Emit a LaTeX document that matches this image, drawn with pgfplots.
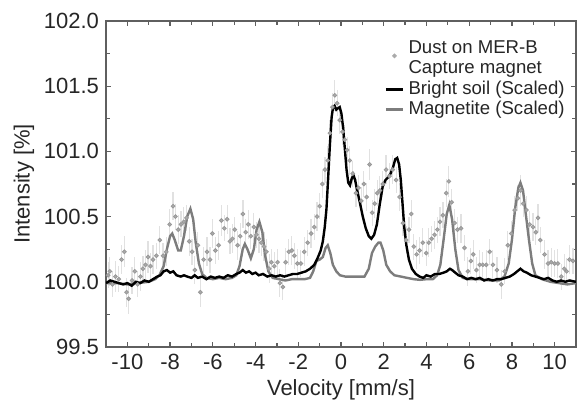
\documentclass[border=0pt]{standalone}
\usepackage{fontspec}
\setmainfont{Liberation Sans}
\usepackage{pgfplots}
\pgfplotsset{compat=1.18}
\usetikzlibrary{calc}
\definecolor{frame}{RGB}{95,95,95}
\definecolor{magn}{RGB}{125,125,125}
\definecolor{dots}{RGB}{170,170,170}
\definecolor{ebar}{RGB}{225,225,225}

\pgfplotstableread{
x y e
-10.90 100.05 0.10
-10.82 100.08 0.11
-10.70 99.98 0.10
-10.56 100.04 0.12
-10.40 100.02 0.10
-10.27 100.17 0.11
-10.14 100.23 0.12
-10.04 99.92 0.11
-9.94 99.87 0.12
-9.78 100.01 0.10
-9.65 100.08 0.11
-9.52 99.98 0.10
-9.39 100.04 0.11
-9.27 100.10 0.10
-9.15 100.13 0.11
-9.03 100.19 0.12
-8.92 100.12 0.10
-8.80 100.17 0.11
-8.64 100.20 0.10
-8.48 100.32 0.11
-8.33 100.20 0.10
-8.18 100.23 0.11
-8.02 100.44 0.12
-7.86 100.58 0.11
-7.75 100.50 0.10
-7.62 100.40 0.11
-7.49 100.44 0.10
-7.36 100.46 0.11
-7.23 100.49 0.10
-7.10 100.31 0.11
-6.97 100.23 0.10
-6.84 100.09 0.11
-6.70 100.28 0.10
-6.58 99.92 0.11
-6.43 100.17 0.10
-6.27 100.23 0.11
-6.13 100.17 0.10
-6.02 100.37 0.11
-5.88 100.24 0.10
-5.73 100.28 0.11
-5.60 100.47 0.12
-5.46 100.41 0.10
-5.33 100.48 0.11
-5.20 100.31 0.10
-5.08 100.33 0.11
-4.97 100.40 0.10
-4.84 100.28 0.11
-4.72 100.35 0.10
-4.59 100.52 0.11
-4.46 100.38 0.10
-4.34 100.44 0.11
-4.22 100.35 0.10
-4.08 100.42 0.11
-3.96 100.36 0.10
-3.84 100.33 0.11
-3.73 100.30 0.10
-3.60 100.27 0.11
-3.49 100.23 0.10
-3.36 100.10 0.11
-3.26 100.15 0.10
-3.12 100.12 0.11
-2.97 100.15 0.10
-2.86 99.99 0.11
-2.72 99.96 0.10
-2.59 100.15 0.11
-2.44 100.23 0.10
-2.30 100.24 0.11
-2.18 100.20 0.10
-2.04 100.14 0.11
-1.88 100.14 0.10
-1.72 100.23 0.11
-1.56 100.30 0.10
-1.40 100.37 0.11
-1.25 100.42 0.10
-1.12 100.50 0.11
-1.00 100.58 0.10
-0.87 100.75 0.11
-0.75 100.86 0.10
-0.62 100.93 0.11
-0.52 101.14 0.10
-0.40 101.34 0.11
-0.29 101.43 0.12
-0.18 101.37 0.10
-0.06 101.24 0.11
0.07 101.15 0.10
0.18 101.09 0.11
0.29 101.01 0.10
0.41 100.93 0.11
0.55 100.83 0.10
0.70 100.68 0.11
0.82 100.72 0.10
0.95 100.62 0.11
1.07 100.75 0.10
1.20 100.65 0.11
1.34 100.90 0.12
1.46 100.53 0.10
1.58 100.60 0.11
1.70 100.68 0.10
1.82 100.70 0.11
1.96 100.75 0.10
2.11 100.86 0.11
2.27 100.81 0.10
2.42 100.86 0.11
2.58 100.78 0.10
2.74 100.65 0.11
2.90 100.45 0.10
3.05 100.32 0.11
3.18 100.40 0.10
3.29 100.52 0.11
3.41 100.27 0.10
3.54 100.21 0.11
3.68 100.24 0.10
3.83 100.30 0.11
3.99 100.22 0.10
4.11 100.30 0.11
4.24 100.33 0.10
4.38 100.36 0.11
4.51 100.40 0.10
4.63 100.46 0.11
4.77 100.51 0.10
4.93 100.68 0.11
5.05 100.77 0.12
5.18 100.61 0.10
5.32 100.45 0.11
5.45 100.40 0.10
5.62 100.41 0.11
5.78 100.26 0.10
5.94 100.08 0.11
6.08 100.16 0.10
6.19 100.21 0.11
6.34 100.09 0.10
6.49 100.13 0.11
6.64 100.13 0.10
6.80 100.13 0.11
6.96 100.23 0.10
7.11 100.13 0.11
7.30 100.09 0.10
7.50 99.98 0.11
7.66 100.08 0.10
7.81 100.28 0.11
7.97 100.37 0.10
8.13 100.55 0.11
8.28 100.64 0.10
8.41 100.70 0.12
8.53 100.60 0.10
8.68 100.55 0.11
8.83 100.44 0.10
8.99 100.42 0.11
9.12 100.38 0.10
9.22 100.49 0.11
9.33 100.32 0.10
9.53 100.21 0.11
9.69 100.14 0.10
9.84 100.15 0.11
10.00 100.14 0.10
10.15 100.14 0.11
10.31 100.04 0.10
10.45 100.10 0.11
10.56 100.08 0.10
10.70 100.17 0.11
10.86 100.16 0.10
}\dust

\pgfplotstableread{
x y
-11.00 99.99
-10.80 100.01
-10.60 100.00
-10.40 99.99
-10.20 99.98
-10.00 99.99
-9.80 99.97
-9.60 100.00
-9.40 99.99
-9.20 100.01
-9.00 100.00
-8.80 100.02
-8.60 100.04
-8.45 100.05
-8.30 100.08
-8.15 100.09
-8.00 100.07
-7.85 100.08
-7.70 100.05
-7.50 100.04
-7.35 100.05
-7.20 100.04
-7.00 100.03
-6.85 100.05
-6.70 100.03
-6.50 100.04
-6.30 100.02
-6.10 100.04
-5.90 100.03
-5.70 100.04
-5.50 100.03
-5.30 100.05
-5.10 100.04
-4.90 100.06
-4.75 100.07
-4.60 100.09
-4.45 100.07
-4.30 100.08
-4.15 100.06
-4.00 100.07
-3.85 100.05
-3.65 100.06
-3.45 100.04
-3.25 100.05
-3.05 100.04
-2.85 100.05
-2.65 100.04
-2.45 100.05
-2.25 100.06
-2.05 100.06
-1.85 100.07
-1.65 100.08
-1.45 100.10
-1.25 100.13
-1.10 100.18
-0.95 100.24
-0.85 100.31
-0.76 100.42
-0.68 100.56
-0.60 100.80
-0.52 101.05
-0.44 101.26
-0.37 101.34
-0.30 101.35
-0.22 101.32
-0.15 101.33
-0.06 101.34
0.02 101.29
0.10 101.18
0.18 101.02
0.26 100.86
0.34 100.76
0.42 100.74
0.50 100.79
0.58 100.82
0.66 100.78
0.76 100.70
0.88 100.61
1.02 100.50
1.16 100.41
1.30 100.35
1.42 100.33
1.55 100.36
1.68 100.44
1.82 100.60
1.95 100.73
2.08 100.78
2.20 100.80
2.32 100.83
2.44 100.88
2.54 100.94
2.63 100.95
2.72 100.90
2.80 100.78
2.88 100.60
2.96 100.42
3.06 100.28
3.18 100.17
3.32 100.10
3.50 100.06
3.68 100.04
3.85 100.03
4.00 100.05
4.20 100.04
4.40 100.06
4.60 100.06
4.80 100.07
4.95 100.08
5.10 100.10
5.20 100.09
5.35 100.07
5.50 100.05
5.70 100.04
5.90 100.02
6.10 100.03
6.30 100.02
6.50 100.03
6.70 100.01
6.90 100.02
7.10 100.01
7.30 100.02
7.50 100.02
7.70 100.03
7.90 100.04
8.10 100.06
8.25 100.08
8.40 100.10
8.55 100.08
8.70 100.07
8.90 100.05
9.10 100.04
9.30 100.03
9.50 100.02
9.70 100.03
9.90 100.01
10.10 100.00
10.30 100.01
10.50 100.00
10.70 100.01
11.00 100.00
}\soil

\pgfplotstableread{
x y
-11.00 99.99
-10.50 99.99
-10.00 99.98
-9.50 99.99
-9.00 100.00
-8.70 100.02
-8.50 100.05
-8.30 100.12
-8.15 100.25
-8.00 100.35
-7.90 100.37
-7.78 100.32
-7.62 100.24
-7.50 100.24
-7.35 100.35
-7.20 100.50
-7.05 100.56
-6.92 100.48
-6.80 100.30
-6.65 100.14
-6.50 100.06
-6.30 100.03
-6.00 100.02
-5.70 100.03
-5.40 100.02
-5.10 100.03
-4.90 100.05
-4.75 100.12
-4.60 100.25
-4.50 100.29
-4.38 100.25
-4.22 100.18
-4.08 100.25
-3.95 100.40
-3.82 100.46
-3.68 100.38
-3.55 100.20
-3.40 100.08
-3.20 100.03
-2.90 100.02
-2.60 100.01
-2.30 100.02
-2.00 100.02
-1.70 100.02
-1.45 100.03
-1.30 100.08
-1.15 100.16
-1.00 100.17
-0.85 100.19
-0.72 100.26
-0.62 100.28
-0.50 100.22
-0.38 100.13
-0.22 100.08
-0.05 100.05
0.20 100.04
0.50 100.04
0.80 100.04
1.10 100.04
1.30 100.10
1.45 100.22
1.60 100.27
1.75 100.30
1.85 100.30
1.98 100.24
2.12 100.13
2.30 100.08
2.50 100.05
2.80 100.04
3.10 100.03
3.40 100.02
3.70 100.015
4.00 100.02
4.30 100.02
4.50 100.05
4.65 100.13
4.80 100.32
4.95 100.52
5.07 100.59
5.20 100.48
5.35 100.25
5.50 100.09
5.70 100.03
6.00 100.02
6.50 100.02
7.00 100.01
7.40 100.01
7.65 100.04
7.85 100.14
8.00 100.32
8.15 100.56
8.30 100.72
8.40 100.76
8.52 100.70
8.65 100.52
8.80 100.32
8.95 100.14
9.10 100.05
9.40 100.02
9.80 100.00
10.20 99.99
10.60 99.98
11.00 99.99
}\magnetite

\begin{document}
\begin{tikzpicture}
\begin{axis}[
  scale only axis,
  width=235pt, height=163pt,
  xmin=-11, xmax=11, ymin=99.5, ymax=102,
  xtick={-10,-8,...,10}, minor x tick num=1,
  ytick={99.5,100,100.5,101,101.5,102}, minor y tick num=1,
  tick align=inside,
  major tick length=2.6pt, minor tick length=2pt,
  axis line style={frame, line width=0.8pt},
  every tick/.style={frame, line width=0.6pt},
  yticklabel style={/pgf/number format/.cd, fixed, fixed zerofill, precision=1, 1000 sep={}},
  /pgf/number format/assume math mode=true,
  tick label style={font=\fontsize{11}{13}\selectfont, text=black!85},
  label style={font=\fontsize{11}{13}\selectfont, text=black!85},
  xlabel={Velocity [mm/s]},
  ylabel={Intensity [\%]},
  xlabel style={yshift=2pt},
  ylabel style={yshift=-2pt},
  legend style={draw=none, fill=none, font=\fontsize{9.3}{10.2}\selectfont,
    at={(rel axis cs:0.998,0.965)}, anchor=north east,
    cells={align=left, text=black!85}, row sep=-2pt},
  legend cell align=left,
]
\addlegendimage{legend image code/.code={\fill[dots] (4.25pt,1.5pt) circle (0.95pt);}}
\addlegendentry{Dust on MER-B\\Capture magnet}
\addlegendimage{legend image code/.code={\draw[black, line width=1.6pt] (0pt,0pt) -- (8.5pt,0pt);}}
\addlegendentry{Bright soil (Scaled)}
\addlegendimage{legend image code/.code={\draw[magn, line width=1.6pt] (0pt,0pt) -- (8.5pt,0pt);}}
\addlegendentry{Magnetite (Scaled)}
\addplot[only marks, mark=*, mark size=0.95pt, color=dots, forget plot,
  mark options={fill=dots, draw=dots!90!black},
  error bars/.cd, y dir=both, y explicit,
  error bar style={ebar, line width=0.6pt}, error mark=none]
  table[x=x, y=y, y error=e] {\dust};
\addplot[magn, line width=1.2pt, forget plot] table[x=x, y=y] {\magnetite};
\addplot[black, line width=1.2pt, forget plot] table[x=x, y=y] {\soil};
\end{axis}
\pgfresetboundingbox
\path ($(current axis.south west)+(-53pt,-29pt)$) rectangle ($(current axis.north east)+(4.5pt,10.5pt)$);
\end{tikzpicture}
\end{document}
